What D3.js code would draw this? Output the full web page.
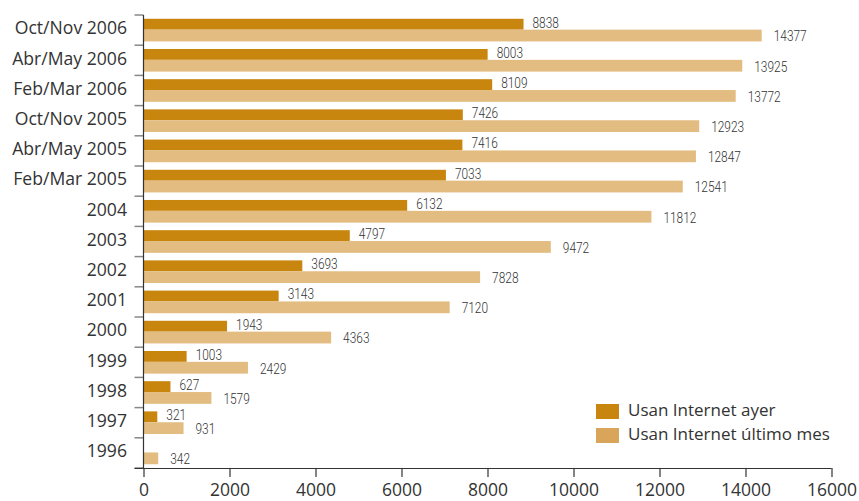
<!DOCTYPE html>
<html>
<head>
<meta charset="utf-8">
<script src="https://cdn.jsdelivr.net/npm/d3@7"></script>
<style>
  html, body { margin: 0; padding: 0; background: #fff; }
  svg text { fill: #333; }
</style>
</head>
<body>
<svg id="chart" width="859" height="501"></svg>
<script>
const categories = ["Oct/Nov 2006", "Abr/May 2006", "Feb/Mar 2006", "Oct/Nov 2005", "Abr/May 2005",
  "Feb/Mar 2005", "2004", "2003", "2002", "2001", "2000", "1999", "1998", "1997", "1996"];
const ayer = [8838, 8003, 8109, 7426, 7416, 7033, 6132, 4797, 3693, 3143, 1943, 1003, 627, 321, null];
const ultimoMes = [14377, 13925, 13772, 12923, 12847, 12541, 11812, 9472, 7828, 7120, 4363, 2429, 1579, 931, 342];
const xTicks = [0, 2000, 4000, 6000, 8000, 10000, 12000, 14000, 16000];
const seriesNames = ["Usan Internet ayer", "Usan Internet último mes"];

const darkColor = "#C8860F";
const lightColor = "#E2BC80";
const legendLight = "#D9A55A";
const axisColor = "#333";
const tickColor = "#888";
const labelFont = "'Open Sans', 'Noto Sans', sans-serif";
const valueFont = "Roboto, 'Open Sans', sans-serif";

const svg = d3.select("#chart");
const plotLeft = 143.5, plotRight = 831.5, plotTop = 15, plotBottom = 468;

const x = d3.scaleLinear().domain([0, 16000]).range([plotLeft, plotRight]);
const y = d3.scaleBand().domain(categories).range([plotTop, plotBottom]).paddingInner(0.25).paddingOuter(0.125);
const bw = y.bandwidth();
const darkH = bw * 0.48;

const g = svg.append("g");

// narrow value label: Roboto squeezed horizontally
function valueLabel(px, py, v) {
  g.append("text").attr("transform", `translate(${px},${py}) scale(0.82,1)`)
    .attr("dominant-baseline", "middle").attr("font-family", valueFont).attr("font-size", 14.5)
    .attr("font-weight", 300)
    .text(v);
}

// Bars: "ayer" on top of each band, "último mes" beneath
categories.forEach((c, i) => {
  const y0 = y(c);
  if (ayer[i] != null) {
    g.append("rect").attr("x", x(0)).attr("y", y0).attr("width", x(ayer[i]) - x(0)).attr("height", darkH)
      .attr("fill", darkColor);
    valueLabel(x(ayer[i]) + 9, y0 + darkH / 2 - 0.5, ayer[i]);
  }
  g.append("rect").attr("x", x(0)).attr("y", y0 + darkH).attr("width", x(ultimoMes[i]) - x(0)).attr("height", bw - darkH)
    .attr("fill", lightColor);
  valueLabel(x(ultimoMes[i]) + 12, y0 + darkH + (bw - darkH) / 2 + 2, ultimoMes[i]);
});

// Category labels, centred on each band
categories.forEach(c => {
  svg.append("text").attr("x", 127).attr("y", y(c) + bw / 2 - 0.5)
    .attr("text-anchor", "end").attr("dominant-baseline", "middle")
    .attr("font-family", labelFont).attr("font-size", 17.6).text(c);
});

// Left axis line with ticks on band boundaries
const step = y.step();
const yTicks = svg.append("g").attr("stroke", tickColor).attr("stroke-width", 1.5);
d3.range(categories.length + 1).forEach(k => {
  const yy = plotTop + k * step;
  yTicks.append("line").attr("x1", plotLeft - 9).attr("x2", plotLeft).attr("y1", yy).attr("y2", yy);
});
svg.append("line").attr("stroke", axisColor).attr("stroke-width", 1.2)
  .attr("x1", plotLeft).attr("x2", plotLeft).attr("y1", plotTop).attr("y2", plotBottom);

// Bottom axis
const xAxis = d3.axisBottom(x).tickValues(xTicks).tickSize(9).tickFormat(d3.format("d"));
const xg = svg.append("g").attr("transform", `translate(0,${plotBottom})`).call(xAxis);
xg.select(".domain").attr("stroke", axisColor).attr("stroke-width", 1.2).attr("d", `M${plotLeft - 9},0.5H${plotRight}`);
xg.selectAll(".tick line").attr("stroke", axisColor).attr("stroke-width", 1.2);
xg.selectAll(".tick text").attr("font-family", labelFont).attr("font-size", 17.5).attr("fill", "#333").attr("dy", "0.92em");

// Legend
const legend = svg.append("g");
[darkColor, legendLight].forEach((col, i) => {
  const ly = 404 + i * 24;
  legend.append("rect").attr("x", 596).attr("y", ly).attr("width", 23).attr("height", 15).attr("fill", col);
  legend.append("text").attr("x", 628).attr("y", ly + 7.5).attr("dominant-baseline", "middle")
    .attr("font-family", labelFont).attr("font-size", 17).text(seriesNames[i]);
});
</script>
</body>
</html>
